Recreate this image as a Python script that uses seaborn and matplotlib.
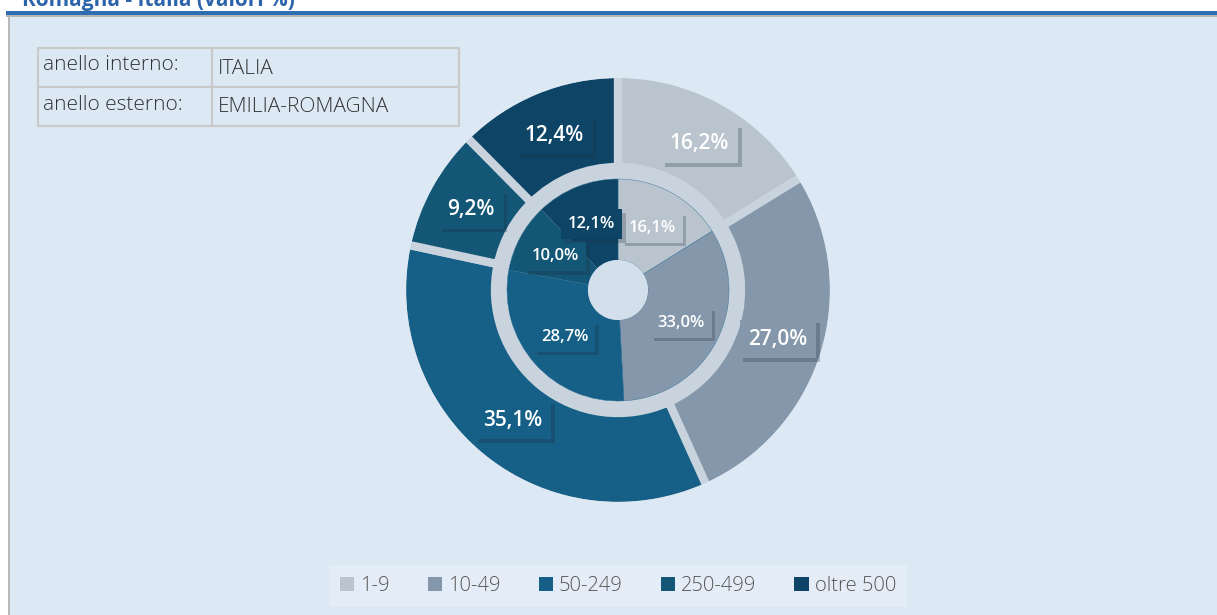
import matplotlib.pyplot as plt
import matplotlib.patheffects as pe
from matplotlib.patches import Rectangle, Patch
import seaborn as sns

# Dati (valori %)
classi = ['1-9', '10-49', '50-249', '250-499', 'oltre 500']
italia = [16.1, 33.0, 28.7, 10.0, 12.1]           # anello interno
emilia_romagna = [16.2, 27.0, 35.1, 9.2, 12.4]    # anello esterno
colori = ['#b9c4ce', '#8597aa', '#165f86', '#135676', '#0e4566']

sns.set_theme(style='white')
plt.rcParams['font.family'] = ['Open Sans', 'DejaVu Sans']

W, H = 1217, 615
bg = '#dce9f5'
gap = '#c8d3de'

fig = plt.figure(figsize=(W / 100, H / 100), dpi=100)
fig.patch.set_facecolor('white')
ax = fig.add_axes([0, 0, 1, 1])

# pannello e cornice
ax.add_patch(Rectangle((10, 0), W - 10, H - 17, facecolor=bg, edgecolor='none', zorder=0))
ax.add_patch(Rectangle((8, 0), 2, H - 17, facecolor='#b8b8b8', edgecolor='none', zorder=0))
ax.add_patch(Rectangle((6, H - 15), W - 6, 4, facecolor='#2e6db0', edgecolor='none', zorder=0))
ax.add_patch(Rectangle((6, H - 17), W - 6, 2, facecolor='#b5b5b5', edgecolor='none', zorder=0))

# titolo (tagliato in alto come nell'originale)
ax.text(22, H - 6, 'Romagna - Italia (valori %)', color='#2b64aa', fontsize=15,
        fontweight='bold', va='baseline', ha='left')

cx, cy = 618, 325

# anello esterno (il bordo grigio fa da spazio tra le fette)
w_out, _, t_out = ax.pie(emilia_romagna, colors=colori, radius=216, center=(cx, cy),
                         startangle=90, counterclock=False, frame=True,
                         autopct='%1.1f', pctdistance=0.775,
                         wedgeprops=dict(width=93, edgecolor=gap, linewidth=6,
                                         joinstyle='bevel'))

# copre il bordo grigio sul lato esterno
ax.pie([1], radius=235, center=(cx, cy), colors=[bg], frame=True,
       wedgeprops=dict(width=23, linewidth=0))

# anello separatore
ax.pie([1], radius=122, center=(cx, cy), colors=[gap], frame=True,
       wedgeprops=dict(width=11, linewidth=0))

# anello interno
w_in, _, t_in = ax.pie(italia, colors=colori, radius=111, center=(cx, cy),
                       startangle=90, counterclock=False, frame=True,
                       autopct='%1.1f', pctdistance=0.64,
                       wedgeprops=dict(width=81, edgecolor='#2c6d91', linewidth=0.3))

# foro centrale
ax.pie([1], radius=30, center=(cx, cy), colors=['#d3e0ec'], frame=True,
       wedgeprops=dict(linewidth=0))


def etichetta(t, val, col, size):
    t.set_text(f'{val:.1f}%'.replace('.', ','))
    t.set_color('white')
    t.set_fontsize(size)
    t.set_fontweight('semibold')
    t.set_bbox(dict(boxstyle='square,pad=0.42', facecolor=col, edgecolor='none'))
    t.get_bbox_patch().set_path_effects([
        pe.SimplePatchShadow(offset=(2.5, -2.5), shadow_rgbFace='#1b2b3a', alpha=0.25),
        pe.Normal()])
    t.set_zorder(5)


for t, v, c in zip(t_out, emilia_romagna, colori):
    etichetta(t, v, c, 15)
for t, v, c in zip(t_in, italia, colori):
    etichetta(t, v, c, 12)

# tabella legenda anelli
x0, x1, xm = 38, 459, 212
y_top, y_mid, y_bot = H - 48, H - 87, H - 126
lc = '#c9c9c9'
ax.plot([x0, x1, x1, x0, x0], [y_top, y_top, y_bot, y_bot, y_top], color=lc, lw=1.6)
ax.plot([x0, x1], [y_mid, y_mid], color=lc, lw=1.6)
ax.plot([xm, xm], [y_top, y_bot], color=lc, lw=1.6)
righe = [('anello interno:', 'ITALIA'), ('anello esterno:', 'EMILIA-ROMAGNA')]
for (k, v), yc in zip(righe, [(y_top + y_mid) / 2, (y_mid + y_bot) / 2]):
    ax.text(43, yc + 2, k, fontsize=15, color='#333333', va='center', ha='left',
            fontweight='light')
    ax.text(218, yc - 1, v, fontsize=15, color='#333333', va='center', ha='left',
            fontweight='light')

# legenda classi
handles = [Patch(facecolor=c, edgecolor='none') for c in colori]
leg = ax.legend(handles, classi, ncol=5, loc='center',
                bbox_to_anchor=(618 / W, (H - 586) / H), bbox_transform=fig.transFigure,
                frameon=True, fancybox=False, facecolor='#e4edf7', edgecolor='none',
                handlelength=0.7, handleheight=0.7, handletextpad=0.3,
                columnspacing=1.9, borderpad=0.55, borderaxespad=0,
                labelcolor='#555555', prop=dict(size=14.5, weight='light'))
leg.get_frame().set_alpha(1)

ax.set_xlim(0, W)
ax.set_ylim(0, H)
ax.set_aspect('equal')
ax.axis('off')

fig.savefig('out.png', dpi=100)
